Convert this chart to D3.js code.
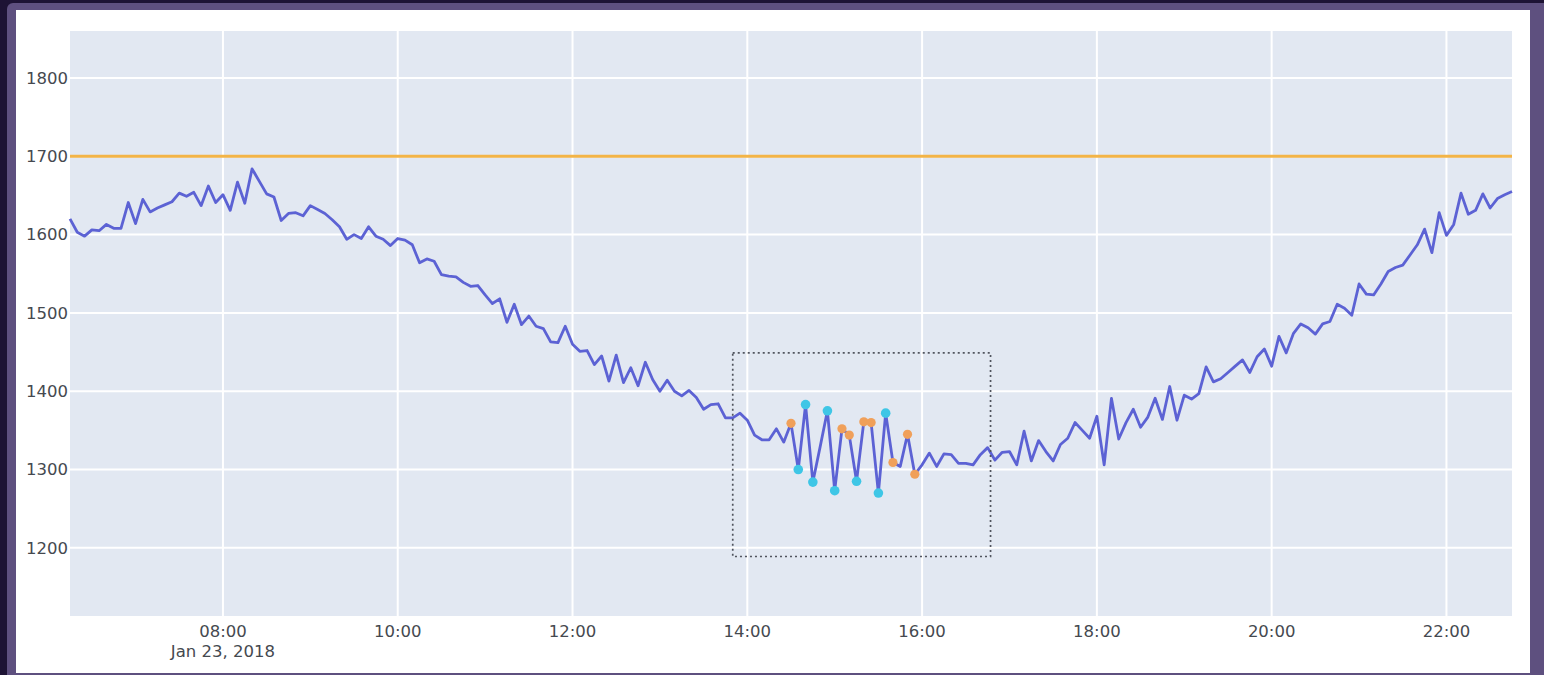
<!DOCTYPE html>
<html><head><meta charset="utf-8">
<script src="https://cdn.jsdelivr.net/npm/d3@7"></script>
<style>html,body{margin:0;padding:0;background:#1d1334;overflow:hidden}svg{display:block}</style>
</head><body><svg id="chart" width="1544" height="675"></svg>
<script>
// ---- data (Jan 23, 2018, 5-minute samples) ----
const times = [
"06:15","06:20","06:25","06:30","06:35","06:40","06:45","06:50","06:55",
"07:00","07:05","07:10","07:15","07:20","07:25","07:30","07:35","07:40","07:45","07:50","07:55",
"08:00","08:05","08:10","08:15","08:20","08:25","08:30","08:35","08:40","08:45","08:50","08:55",
"09:00","09:05","09:10","09:15","09:20","09:25","09:30","09:35","09:40","09:45","09:50","09:55",
"10:00","10:05","10:10","10:15","10:20","10:25","10:30","10:35","10:40","10:45","10:50","10:55",
"11:00","11:05","11:10","11:15","11:20","11:25","11:30","11:35","11:40","11:45","11:50","11:55",
"12:00","12:05","12:10","12:15","12:20","12:25","12:30","12:35","12:40","12:45","12:50","12:55",
"13:00","13:05","13:10","13:15","13:20","13:25","13:30","13:35","13:40","13:45","13:50","13:55",
"14:00","14:05","14:10","14:15","14:20","14:25","14:30","14:35","14:40","14:45","14:50","14:55",
"15:00","15:05","15:10","15:15","15:20","15:25","15:30","15:35","15:40","15:45","15:50","15:55",
"16:00","16:05","16:10","16:15","16:20","16:25","16:30","16:35","16:40","16:45","16:50","16:55",
"17:00","17:05","17:10","17:15","17:20","17:25","17:30","17:35","17:40","17:45","17:50","17:55",
"18:00","18:05","18:10","18:15","18:20","18:25","18:30","18:35","18:40","18:45","18:50","18:55",
"19:00","19:05","19:10","19:15","19:20","19:25","19:30","19:35","19:40","19:45","19:50","19:55",
"20:00","20:05","20:10","20:15","20:20","20:25","20:30","20:35","20:40","20:45","20:50","20:55",
"21:00","21:05","21:10","21:15","21:20","21:25","21:30","21:35","21:40","21:45","21:50","21:55",
"22:00","22:05","22:10","22:15","22:20","22:25","22:30","22:35","22:40","22:45"];
const values = [
1620,1603,1598,1606,1605,1613,1608,1608,1641,
1614,1645,1629,1634,1638,1642,1653,1649,1654,1637,1662,1641,
1651,1631,1667,1640,1684,1668,1652,1648,1618,1627,1628,1624,
1637,1632,1627,1619,1610,1594,1600,1595,1610,1598,1594,1586,
1595,1593,1587,1564,1569,1566,1549,1547,1546,1539,1534,1535,
1523,1512,1518,1488,1511,1485,1496,1483,1480,1463,1462,1483,
1460,1451,1452,1434,1445,1413,1446,1411,1430,1407,1437,1415,
1400,1414,1400,1394,1401,1392,1377,1383,1384,1366,1366,1372,
1363,1344,1338,1338,1352,1335,1359,1300,1383,1284,1329,1375,
1273,1352,1344,1285,1361,1360,1270,1372,1309,1304,1345,1294,
1306,1321,1304,1320,1319,1308,1308,1306,1319,1328,1312,1322,
1323,1306,1349,1311,1337,1323,1311,1332,1340,1360,1350,1340,
1368,1306,1391,1339,1360,1377,1354,1367,1391,1364,1406,1363,
1395,1390,1397,1431,1412,1416,1424,1432,1440,1424,1444,1454,
1432,1470,1449,1474,1486,1481,1473,1486,1489,1511,1506,1497,
1537,1524,1523,1537,1553,1558,1561,1574,1587,1607,1577,1628,
1599,1613,1653,1626,1631,1652,1634,1646,1651,1655];
const cyanTimes   = ["14:35","14:40","14:45","14:55","15:00","15:15","15:30","15:35"];
const orangeTimes = ["14:30","15:05","15:10","15:20","15:25","15:40","15:50","15:55"];
const threshold = 1700;
const boxTimes  = ["13:50","16:47"];
const boxValues = [1189, 1449];
const yTicks = [1200,1300,1400,1500,1600,1700,1800];
const xTicks = ["08:00","10:00","12:00","14:00","16:00","18:00","20:00","22:00"];
const dateLabel = "Jan 23, 2018";
const xDomain = ["06:15","22:45"];
const yDomain = [1113, 1860];

// ---- helpers ----
const parse = s => { const [h,m] = s.split(":").map(Number); return new Date(2018,0,23,h,m); };
const data = times.map((t,i) => ({t: parse(t), v: values[i]}));
const lookup = t => data[times.indexOf(t)];

const W = 1544, H = 675;
const plot = {l:70, r:1512, t:31, b:616};
const svg = d3.select("#chart");

// frame
svg.append("rect").attr("width",W).attr("height",H).attr("fill","#1d1334");
svg.append("rect").attr("x",7).attr("y",3).attr("width",1545).attr("height",680).attr("rx",6).attr("fill","#5e507f");
svg.append("rect").attr("x",16).attr("y",10).attr("width",1514).attr("height",663).attr("fill","#ffffff");

const x = d3.scaleTime().domain(xDomain.map(parse)).range([plot.l, plot.r]);
const y = d3.scaleLinear().domain(yDomain).range([plot.b, plot.t]);

svg.append("rect").attr("x",plot.l).attr("y",plot.t).attr("width",plot.r-plot.l).attr("height",plot.b-plot.t).attr("fill","#e2e8f2");

// grid
const g = svg.append("g");
g.selectAll(".hg").data(yTicks).join("line")
  .attr("x1",plot.l).attr("x2",plot.r).attr("y1",d=>y(d)).attr("y2",d=>y(d))
  .attr("stroke","#ffffff").attr("stroke-width",2);
g.selectAll(".vg").data(xTicks).join("line")
  .attr("x1",d=>x(parse(d))).attr("x2",d=>x(parse(d))).attr("y1",plot.t).attr("y2",plot.b)
  .attr("stroke","#ffffff").attr("stroke-width",2);

// y labels
svg.append("g").selectAll("text").data(yTicks).join("text")
  .attr("x",plot.l-2).attr("y",d=>y(d)).attr("dy","0.35em").attr("text-anchor","end")
  .attr("font-family","DejaVu Sans, Verdana, sans-serif").attr("font-size",16.5).attr("fill","#45494f")
  .text(d=>d);
// x labels
svg.append("g").selectAll("text").data(xTicks).join("text")
  .attr("x",d=>x(parse(d))).attr("y",637).attr("text-anchor","middle")
  .attr("font-family","DejaVu Sans, Verdana, sans-serif").attr("font-size",16.5).attr("fill","#45494f")
  .text(d=>d);
svg.append("text").attr("x",x(parse(xTicks[0]))).attr("y",657).attr("text-anchor","middle")
  .attr("font-family","DejaVu Sans, Verdana, sans-serif").attr("font-size",16.5).attr("fill","#45494f")
  .text(dateLabel);

// threshold
svg.append("line").attr("x1",plot.l).attr("x2",plot.r).attr("y1",y(threshold)).attr("y2",y(threshold))
  .attr("stroke","#f3b447").attr("stroke-width",3);

// series line
svg.append("path").datum(data)
  .attr("d", d3.line().x(d=>x(d.t)).y(d=>y(d.v)))
  .attr("fill","none").attr("stroke","#5c62d4").attr("stroke-width",2.8).attr("stroke-linejoin","round");

// markers
svg.append("g").selectAll("circle").data(orangeTimes.map(lookup)).join("circle")
  .attr("cx",d=>x(d.t)).attr("cy",d=>y(d.v)).attr("r",4.6).attr("fill","#f0a05a");
svg.append("g").selectAll("circle").data(cyanTimes.map(lookup)).join("circle")
  .attr("cx",d=>x(d.t)).attr("cy",d=>y(d.v)).attr("r",4.8).attr("fill","#3ec6e6");

// dotted selection box
const bx0 = x(parse(boxTimes[0])), bx1 = x(parse(boxTimes[1]));
svg.append("rect").attr("x",bx0).attr("y",y(boxValues[1])).attr("width",bx1-bx0)
  .attr("height",y(boxValues[0])-y(boxValues[1]))
  .attr("fill","none").attr("stroke","#50545e").attr("stroke-width",1.7).attr("stroke-dasharray","2,3");
</script></body></html>
